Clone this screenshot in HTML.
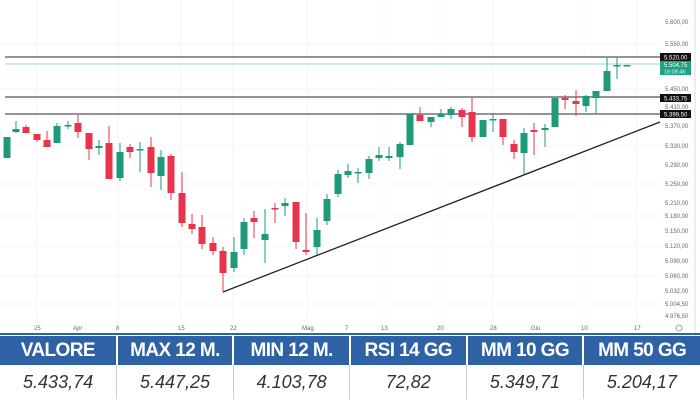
<!DOCTYPE html>
<html><head><meta charset="utf-8"><style>
body{margin:0;width:700px;height:400px;overflow:hidden;background:#fff;font-family:"Liberation Sans",sans-serif}
#c{position:absolute;left:0;top:0}
table{position:absolute;left:0;top:336px;width:700px;border-collapse:collapse;table-layout:fixed}
th{background:#2f62a4;color:#fff;font-family:"Liberation Sans Narrow","Liberation Sans",sans-serif;font-weight:bold;font-size:19px;letter-spacing:-0.6px;height:29px;padding:0;border-left:2px solid #fff;white-space:nowrap;overflow:hidden}
th:first-child{border-left:none}
td{height:34px;text-align:center;font-style:italic;font-size:18px;color:#333;border-left:1px solid #ccc;padding:0}
td:first-child{border-left:none}
</style></head><body>
<svg id="c" width="700" height="336" xmlns="http://www.w3.org/2000/svg" font-family="Liberation Sans" >
<g stroke="#f4f4f4" stroke-width="1" id="grid">
<line x1="37" y1="0" x2="37" y2="320"/><line x1="118" y1="0" x2="118" y2="320"/><line x1="181" y1="0" x2="181" y2="320"/><line x1="233" y1="0" x2="233" y2="320"/><line x1="307" y1="0" x2="307" y2="320"/><line x1="384" y1="0" x2="384" y2="320"/><line x1="440" y1="0" x2="440" y2="320"/><line x1="493" y1="0" x2="493" y2="320"/><line x1="584" y1="0" x2="584" y2="320"/><line x1="637" y1="0" x2="637" y2="320"/>
<line x1="0" y1="44" x2="660" y2="44"/><line x1="0" y1="89" x2="660" y2="89"/><line x1="0" y1="146" x2="660" y2="146"/><line x1="0" y1="184" x2="660" y2="184"/><line x1="0" y1="216" x2="660" y2="216"/><line x1="0" y1="246" x2="660" y2="246"/><line x1="0" y1="276" x2="660" y2="276"/><line x1="0" y1="304" x2="660" y2="304"/>
</g>
<line x1="695" y1="0" x2="695" y2="336" stroke="#ddd"/>
<line x1="5" y1="57" x2="660" y2="57" stroke="#555" stroke-width="1.3"/>
<line x1="5" y1="64" x2="660" y2="64" stroke="#9fd8c8" stroke-width="1"/>
<line x1="5" y1="97" x2="660" y2="97" stroke="#555" stroke-width="1.3"/>
<line x1="5" y1="114" x2="660" y2="114" stroke="#555" stroke-width="1.3"/>
<line x1="223" y1="292" x2="660" y2="122" stroke="#222" stroke-width="1.3"/>
<g id="cd"></g>
<g font-size="6" fill="#666">
<text x="665" y="24">5.600,00</text><text x="665" y="46">5.550,00</text><text x="665" y="91">5.450,00</text><text x="665" y="109">5.410,00</text><text x="665" y="128">5.370,00</text><text x="665" y="148">5.330,00</text><text x="665" y="167">5.290,00</text><text x="665" y="186">5.250,00</text><text x="665" y="205">5.210,00</text><text x="665" y="218">5.180,00</text><text x="665" y="233">5.150,00</text><text x="665" y="248">5.120,00</text><text x="665" y="263">5.090,00</text><text x="665" y="278">5.060,00</text><text x="665" y="293">5.032,00</text><text x="665" y="306">5.004,50</text><text x="665" y="318">4.976,50</text>
<text x="34" y="330">25</text><text x="73" y="330">Apr</text><text x="116" y="330">8</text><text x="178" y="330">15</text><text x="230" y="330">22</text><text x="302" y="330">Mag</text><text x="345" y="330">7</text><text x="381" y="330">13</text><text x="437" y="330">20</text><text x="490" y="330">28</text><text x="531" y="330">Giu</text><text x="581" y="330">10</text><text x="634" y="330">17</text>
</g>
<circle cx="679" cy="328" r="3" fill="none" stroke="#888" stroke-width="0.8"/>
<rect x="660" y="53" width="31" height="8" fill="#111"/><text x="664" y="59.5" font-size="6" fill="#fff">5.520,00</text>
<rect x="660" y="61" width="31" height="14" fill="#22a083"/><text x="664" y="67" font-size="6" fill="#fff">5.504,75</text><text x="664" y="73.5" font-size="5.5" fill="#dff">16:08:46</text>
<rect x="660" y="94" width="31" height="8" fill="#111"/><text x="664" y="100.5" font-size="6" fill="#fff">5.433,75</text>
<rect x="660" y="110" width="31" height="8" fill="#111"/><text x="664" y="116.5" font-size="6" fill="#fff">5.399,50</text>
<line x1="0" y1="334" x2="700" y2="334" stroke="#2f62a4" stroke-width="2"/>
</svg>
<table><tr><th>VALORE</th><th>MAX 12 M.</th><th>MIN 12 M.</th><th>RSI 14 GG</th><th>MM 10 GG</th><th>MM 50 GG</th></tr>
<tr><td>5.433,74</td><td>5.447,25</td><td>4.103,78</td><td>72,82</td><td>5.349,71</td><td>5.204,17</td></tr></table>
<script>
var d=[[7,'g',137,158,137,158],[16,'g',129,132,121,133],[26,'r',127,133,125,133],[37,'r',134,140,134,142],[47,'r',140,147,131,147],[57,'g',126,143,123,143],[68,'g',125,126,121,129],[78,'r',123,132,115,138],[89,'r',133,149,133,160],[99,'g',146,148,140,155],[109,'r',143,179,126,179],[120,'g',152,178,143,181],[130,'r',147,152,144,158],[140,'g',149,150,142,172],[151,'r',147,173,137,187],[161,'g',157,176,150,190],[171,'r',156,193,154,200],[182,'r',193,223,172,227],[192,'r',224,229,214,234],[202,'r',227,244,215,249],[213,'r',243,251,237,255],[223,'r',251,273,247,292],[234,'g',252,268,237,272],[244,'g',222,249,218,255],[254,'r',218,222,211,238],[265,'g',234,240,209,263],[275,'r',208,209,203,223],[285,'g',203,206,198,216],[296,'r',202,242,202,249],[306,'r',250,252,213,255],[317,'g',230,247,218,255],[327,'g',199,221,194,225],[338,'g',174,194,170,197],[348,'g',171,175,164,178],[358,'g',172,173,168,183],[369,'g',159,173,156,179],[379,'g',155,158,147,161],[389,'g',156,158,147,161],[400,'g',144,157,142,169],[410,'g',114,145,114,145],[420,'r',115,121,107,121],[431,'g',117,122,117,127],[441,'g',114,117,109,117],[451,'g',109,115,107,119],[462,'r',110,117,108,127],[472,'r',112,137,97,142],[483,'g',120,137,120,137],[493,'g',119,120,113,132],[503,'r',119,137,119,145],[514,'r',144,152,140,159],[524,'g',133,153,128,174],[534,'r',130,132,123,155],[545,'g',128,130,124,147],[555,'g',98,127,98,127],[565,'r',98,100,95,109],[576,'r',101,104,90,116],[586,'g',96,106,95,112],[596,'g',91,98,91,113],[607,'g',71,91,57,91],[617,'g',65,66,57,79],[627,'g',65,66,65,66]];
var s='';d.forEach(function(c){var col=c[1]=='g'?'#1e9a78':'#e8344a';s+='<line x1="'+c[0]+'" x2="'+c[0]+'" y1="'+c[4]+'" y2="'+c[5]+'" stroke="'+col+'" stroke-width="1"/><rect x="'+(c[0]-3.5)+'" y="'+c[2]+'" width="7" height="'+Math.max(1.5,c[3]-c[2])+'" fill="'+col+'"/>';});
document.getElementById('cd').innerHTML=s;
</script>
</body></html>
